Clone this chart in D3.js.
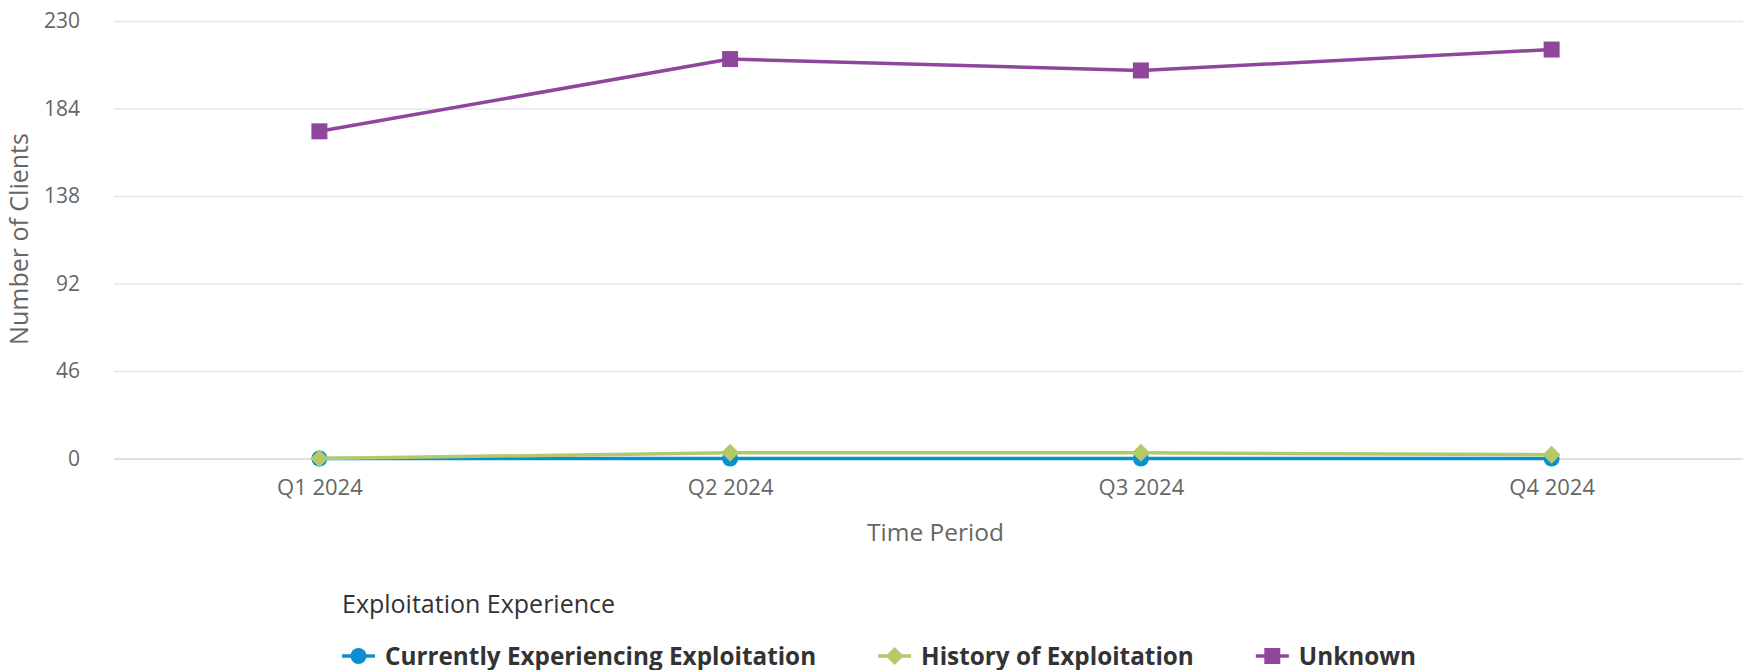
<!DOCTYPE html>
<html>
<head>
<meta charset="utf-8">
<script src="https://cdn.jsdelivr.net/npm/d3@7"></script>
<style>
    body { margin: 0; background: #fff; }
    #chart { width: 1743px; height: 670px; }
    text { font-family: "Open Sans", sans-serif; }
</style>
</head>
<body>
<div id="chart"></div>
<script>

// data
let periods = ["Q1 2024", "Q2 2024", "Q3 2024", "Q4 2024"];
let seriesNames = ["Currently Experiencing Exploitation", "History of Exploitation", "Unknown"];
let currentValues = [0, 0, 0, 0];
let historyValues = [0, 3, 3, 2];
let unknownValues = [172, 210, 204, 215];
let yTicks = [0, 46, 92, 138, 184, 230];
let seriesColors = ["#0a8fd0", "#b3c96a", "#8e479b"];
let seriesSymbols = ["circle", "diamond", "square"];


class LineChart {

    constructor(parentElement) {
        this.parentElement = parentElement;
        this.initVis();
    }

    initVis() {
        let vis = this;

        vis.margin = {top: 21, left: 114};
        vis.width = 1757 - vis.margin.left;
        vis.height = 458.5 - vis.margin.top;

        vis.root = d3.select("#" + vis.parentElement).append("svg")
            .attr("width", 1743)
            .attr("height", 670);

        vis.svg = vis.root.append("g")
            .attr("transform", `translate(${vis.margin.left}, ${vis.margin.top})`);

        vis.x = d3.scalePoint()
            .domain(periods)
            .range([0, vis.width])
            .padding(0.5);

        vis.y = d3.scaleLinear()
            .domain([0, 230])
            .range([vis.height, 0]);

        // gridlines
        vis.svg.append("g")
            .attr("class", "grid")
            .call(d3.axisLeft(vis.y).tickValues(yTicks).tickSize(-vis.width).tickFormat(""))
            .call(g => g.select(".domain").remove())
            .call(g => g.selectAll("line")
                .attr("stroke", d => d === 0 ? "#ccd6eb" : "#e6e6e6")
                .attr("stroke-width", 1.5));

        // y labels
        vis.svg.append("g")
            .attr("class", "y-axis")
            .attr("transform", "translate(-31,0)")
            .call(d3.axisLeft(vis.y).tickValues(yTicks).tickSize(0))
            .call(g => g.select(".domain").remove())
            .call(g => g.selectAll("text")
                .attr("fill", "#666")
                .attr("font-size", "21px")
                .attr("font-family", "Open Sans, sans-serif"));

        // x labels
        vis.svg.append("g")
            .attr("class", "x-axis")
            .attr("transform", `translate(0, ${vis.height})`)
            .call(d3.axisBottom(vis.x).tickSize(0).tickPadding(21))
            .call(g => g.select(".domain").remove())
            .call(g => g.selectAll("text")
                .attr("fill", "#666")
                .attr("font-size", "22px")
                .attr("font-family", "Open Sans, sans-serif"));

        // axis titles
        vis.root.append("text")
            .text("Time Period")
            .attr("x", vis.margin.left + vis.width / 2)
            .attr("y", 541)
            .attr("text-anchor", "middle")
            .attr("fill", "#666")
            .attr("font-size", "24.5px");

        vis.root.append("text")
            .text("Number of Clients")
            .attr("transform", "translate(28, 239) rotate(-90)")
            .attr("text-anchor", "middle")
            .attr("fill", "#666")
            .attr("font-size", "25px");

        vis.wrangleData();
    }

    wrangleData() {
        let vis = this;
        let allValues = [currentValues, historyValues, unknownValues];
        vis.displayData = seriesNames.map((name, i) => ({
            name: name,
            color: seriesColors[i],
            symbol: seriesSymbols[i],
            values: periods.map((p, j) => ({period: p, value: allValues[i][j]}))
        }));
        vis.updateVis();
    }

    symbolPath(type, size) {
        if (type === "circle") return d3.symbol(d3.symbolCircle, size * size * Math.PI / 4)();
        if (type === "square") return d3.symbol(d3.symbolSquare, size * size)();
        let h = size / 2 + 1;
        return `M0,${-h}L${h},0L0,${h}L${-h},0Z`;
    }

    updateVis() {
        let vis = this;

        let line = d3.line()
            .x(d => vis.x(d.period))
            .y(d => vis.y(d.value));

        let series = vis.svg.selectAll(".series")
            .data(vis.displayData)
            .enter().append("g")
            .attr("class", "series");

        series.append("path")
            .attr("d", d => line(d.values))
            .attr("fill", "none")
            .attr("stroke", d => d.color)
            .attr("stroke-width", 3.5)
            .attr("stroke-linejoin", "round");

        series.each(function (s) {
            d3.select(this).selectAll(".marker")
                .data(s.values)
                .enter().append("path")
                .attr("class", "marker")
                .attr("d", vis.symbolPath(s.symbol, 16))
                .attr("transform", d => `translate(${vis.x(d.period)}, ${vis.y(d.value)})`)
                .attr("fill", s.color);
        });

        // legend
        let legend = vis.root.append("g").attr("class", "legend");

        legend.append("text")
            .text("Exploitation Experience")
            .attr("x", 342)
            .attr("y", 613)
            .attr("fill", "#333")
            .attr("font-size", "25px");

        let xPos = 342;
        vis.displayData.forEach(s => {
            let item = legend.append("g").attr("transform", `translate(${xPos}, 656)`);
            item.append("line")
                .attr("x1", 0).attr("x2", 33)
                .attr("stroke", s.color)
                .attr("stroke-width", 3.5);
            item.append("path")
                .attr("d", vis.symbolPath(s.symbol, 16))
                .attr("transform", "translate(16.5, 0)")
                .attr("fill", s.color);
            let label = item.append("text")
                .text(s.name)
                .attr("x", 43)
                .attr("y", 8.5)
                .attr("fill", "#333")
                .attr("font-weight", "bold")
                .attr("font-size", "24.3px");
            xPos += 43 + label.node().getComputedTextLength() + 62;
        });
    }
}

new LineChart("chart");

</script>
</body>
</html>
